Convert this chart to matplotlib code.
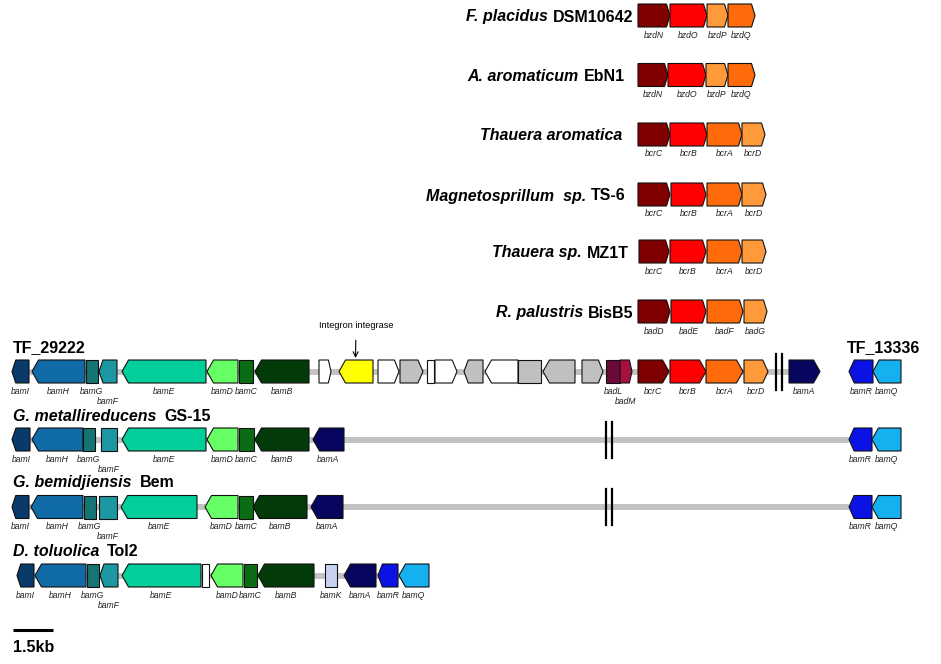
import matplotlib
matplotlib.use("Agg")
import matplotlib.pyplot as plt
from matplotlib.patches import Polygon

plt.rcParams["font.family"] = ["Liberation Sans", "DejaVu Sans"]

# ---------------- data (positions in drawing units; 40 units = 1.5 kb) ----------------
# Top reference clusters
top_species = ["F. placidus", "A. aromaticum", "Thauera aromatica",
               "Magnetosprillum  sp.", "Thauera sp.", "R. palustris"]
top_strain = ["DSM10642", "EbN1", "", "TS-6", "MZ1T", "BisB5"]
top_names = [["bzdN", "bzdO", "bzdP", "bzdQ"],
             ["bzdN", "bzdO", "bzdP", "bzdQ"],
             ["bcrC", "bcrB", "bcrA", "bcrD"],
             ["bcrC", "bcrB", "bcrA", "bcrD"],
             ["bcrC", "bcrB", "bcrA", "bcrD"],
             ["badD", "badE", "badF", "badG"]]
top_starts = [[638, 670, 707, 728],
              [638, 668, 706, 728],
              [638, 670, 707, 742],
              [638, 671, 707, 742],
              [639, 670, 707, 742],
              [638, 671, 707, 744]]
top_ends = [[670, 707, 728, 755],
            [668, 706, 728, 755],
            [670, 707, 742, 765],
            [670, 706, 742, 766],
            [669, 706, 742, 766],
            [670, 706, 743, 767]]

# Bottom clusters
tf_names = ["bamI", "bamH", "bamG", "bamF", "bamE", "bamD", "bamC", "bamB",
            "_w", "_y", "_w", "_g", "_w", "_w", "_g", "_w", "_g", "_g", "_g",
            "badL", "badM", "bcrC", "bcrB", "bcrA", "bcrD", "bamA", "bamR", "bamQ"]
tf_starts = [12, 32, 86, 99, 122, 207, 239, 255,
             319, 339, 378, 400, 427, 435, 464, 485, 518, 543, 582,
             606, 620, 638, 670, 706, 744, 789, 849, 873]
tf_ends = [29, 85, 98, 117, 206, 238, 253, 309,
           331, 373, 399, 423, 434, 457, 483, 518, 541, 575, 603,
           620, 632, 669, 706, 743, 768, 820, 873, 901]
tf_strand = [-1, -1, 0, -1, -1, -1, 0, -1,
             1, -1, 1, 1, 0, 1, -1, -1, 0, -1, 1,
             0, 1, 1, 1, 1, 1, 1, -1, -1]

gm_names = ["bamI", "bamH", "bamG", "bamF", "bamE", "bamD", "bamC", "bamB", "bamA", "bamR", "bamQ"]
gm_starts = [12, 32, 83, 101, 122, 207, 239, 255, 313, 849, 872]
gm_ends = [30, 83, 95, 117, 206, 238, 254, 309, 344, 872, 901]
gm_strand = [-1, -1, 0, 0, -1, -1, 0, -1, -1, -1, -1]

gb_names = ["bamI", "bamH", "bamG", "bamF", "bamE", "bamD", "bamC", "bamB", "bamA", "bamR", "bamQ"]
gb_starts = [12, 31, 84, 99, 121, 205, 239, 253, 311, 849, 872]
gb_ends = [29, 83, 96, 117, 197, 238, 253, 307, 343, 872, 901]
gb_strand = [-1, -1, 0, 0, -1, -1, 0, -1, -1, -1, -1]

dt_names = ["bamI", "bamH", "bamG", "bamF", "bamE", "_w", "bamD", "bamC", "bamB",
            "bamK", "bamA", "bamR", "bamQ"]
dt_starts = [17, 35, 87, 100, 122, 202, 211, 244, 258, 325, 344, 378, 399]
dt_ends = [34, 86, 99, 118, 201, 209, 243, 257, 314, 337, 376, 398, 429]
dt_strand = [-1, -1, 0, -1, -1, 0, -1, 0, -1, 0, -1, -1, -1]

bottom_species = ["", "G. metallireducens", "G. bemidjiensis", "D. toluolica"]
bottom_strain = ["TF_29222", "GS-15", "Bem", "Tol2"]
backbone_start = [12, 12, 12, 17]
backbone_end = [789, 849, 849, 429]
break_pos = [779, 609, 609, None]

scale_kb = 1.5
units_per_kb = 40 / 1.5

# ---------------- styles ----------------
palette = {
    "bamI": "#0A3A6A", "bamH": "#0F6AA6", "bamG": "#177474", "bamF": "#1C98A2",
    "bamE": "#02CE9A", "bamD": "#66FF66", "bamC": "#0A6C15", "bamB": "#033A0A",
    "bamA": "#06065F", "bamR": "#0A12E6", "bamQ": "#14B0F0", "bamK": "#C6D2EE",
    "badL": "#6A0A38", "badM": "#A8103E",
    "bcrC": "#800000", "bcrB": "#FF0000", "bcrA": "#FF6A0A", "bcrD": "#FF9A3A",
    "bzdN": "#800000", "bzdO": "#FF0000", "bzdP": "#FF9A3A", "bzdQ": "#FF6A0A",
    "badD": "#800000", "badE": "#FF0000", "badF": "#FF6A0A", "badG": "#FF9A3A",
    "_w": "#FFFFFF", "_g": "#C0C0C0", "_y": "#FFFF00",
}
drop_labels = {"bamF", "badM"}

fig = plt.figure(figsize=(9.41, 6.64), dpi=100)
ax = fig.add_axes([0, 0, 1, 1])
ax.set_xlim(0, 941)
ax.set_ylim(664, 0)
ax.axis("off")

H = 23


def draw_gene(x0, x1, yc, strand, color, tip, cap):
    L = x1 - x0
    t = min(tip, L * cap)
    top, bot = yc - H / 2, yc + H / 2
    if strand > 0:
        pts = [(x0, top), (x1 - t, top), (x1, yc), (x1 - t, bot), (x0, bot)]
    elif strand < 0:
        pts = [(x1, top), (x0 + t, top), (x0, yc), (x0 + t, bot), (x1, bot)]
    else:
        pts = [(x0, top), (x1, top), (x1, bot), (x0, bot)]
    ax.add_patch(Polygon(pts, closed=True, facecolor=color, edgecolor="#111111",
                         linewidth=0.8, zorder=3, joinstyle="miter"))


def gene_label(name, x0, x1, yc):
    if name.startswith("_"):
        return
    dy = 8 + (10 if name in drop_labels else 0)
    ax.text((x0 + x1) / 2, yc + H / 2 + dy, name, ha="center", va="center",
            fontsize=6.2, style="italic", color="#222222", zorder=4)


renderer = fig.canvas.get_renderer()
inv = ax.transData.inverted()
NAME_FS = 11.5


def two_part_label(species, strain, x, y, align):
    if align == "right":
        t2 = ax.text(x, y, strain, ha="right", va="baseline", fontsize=NAME_FS,
                     fontweight="bold")
        bb = t2.get_window_extent(renderer)
        xl = inv.transform((bb.x0, bb.y0))[0]
        gap = 5 if strain else 0
        ax.text(xl - gap, y, species, ha="right", va="baseline", fontsize=NAME_FS,
                fontweight="bold", style="italic")
    else:
        xr = x
        if species:
            t1 = ax.text(x, y, species, ha="left", va="baseline", fontsize=NAME_FS,
                         fontweight="bold", style="italic")
            bb = t1.get_window_extent(renderer)
            xr = inv.transform((bb.x1, bb.y0))[0] + 8
        ax.text(xr, y, strain, ha="left", va="baseline", fontsize=NAME_FS,
                fontweight="bold")


# ---------------- top clusters ----------------
top_y = [15.5, 75, 134.5, 194.5, 251.5, 311.5]
label_right = [633, 625, 622, 626, 629, 634]
for i in range(len(top_species)):
    yc = top_y[i]
    for n, s, e in zip(top_names[i], top_starts[i], top_ends[i]):
        draw_gene(s, e, yc, 1, palette[n], 3.5, 0.2)
        gene_label(n, s, e, yc)
    two_part_label(top_species[i], top_strain[i], label_right[i], yc + 6, "right")

# ---------------- bottom clusters ----------------
bottom_tracks = [(tf_names, tf_starts, tf_ends, tf_strand),
                 (gm_names, gm_starts, gm_ends, gm_strand),
                 (gb_names, gb_starts, gb_ends, gb_strand),
                 (dt_names, dt_starts, dt_ends, dt_strand)]
bottom_y = [371.5, 439.5, 507, 575.5]
label_base = [352, 421, 487, 556]
for i, (names, starts, ends, strands) in enumerate(bottom_tracks):
    yc = bottom_y[i]
    ax.plot([backbone_start[i], backbone_end[i]], [yc, yc], color="#C3C3C3",
            linewidth=4.3, solid_capstyle="butt", zorder=1)
    for n, s, e, d in zip(names, starts, ends, strands):
        draw_gene(s, e, yc, d, palette[n], 6.5, 0.22)
        gene_label(n, s, e, yc)
    if break_pos[i] is not None:
        for dx in (-3, 3):
            ax.plot([break_pos[i] + dx] * 2, [yc - 18, yc + 18], color="black",
                    linewidth=1.6, zorder=5)
    two_part_label(bottom_species[i], bottom_strain[i], 13, label_base[i], "left")

ax.text(847, 352, "TF_13336", ha="left", va="baseline", fontsize=NAME_FS,
        fontweight="bold")

# Integron integrase annotation (points at the yellow gene)
yi = tf_names.index("_y")
xi = (tf_starts[yi] + tf_ends[yi]) / 2
ax.annotate("Integron integrase", xy=(xi - 0.5, bottom_y[0] - H / 2 - 2),
            xytext=(xi, 326), ha="center", va="center", fontsize=6.6,
            arrowprops=dict(arrowstyle="->", color="black", lw=0.8,
                            shrinkA=5, shrinkB=0, mutation_scale=9))

# ---------------- scale bar ----------------
ax.plot([13, 13 + scale_kb * units_per_kb], [630, 630], color="black",
        linewidth=2.2, solid_capstyle="butt")
ax.text(13, 652, f"{scale_kb}kb", ha="left", va="baseline", fontsize=NAME_FS,
        fontweight="bold")

fig.savefig("out.png", dpi=100)
